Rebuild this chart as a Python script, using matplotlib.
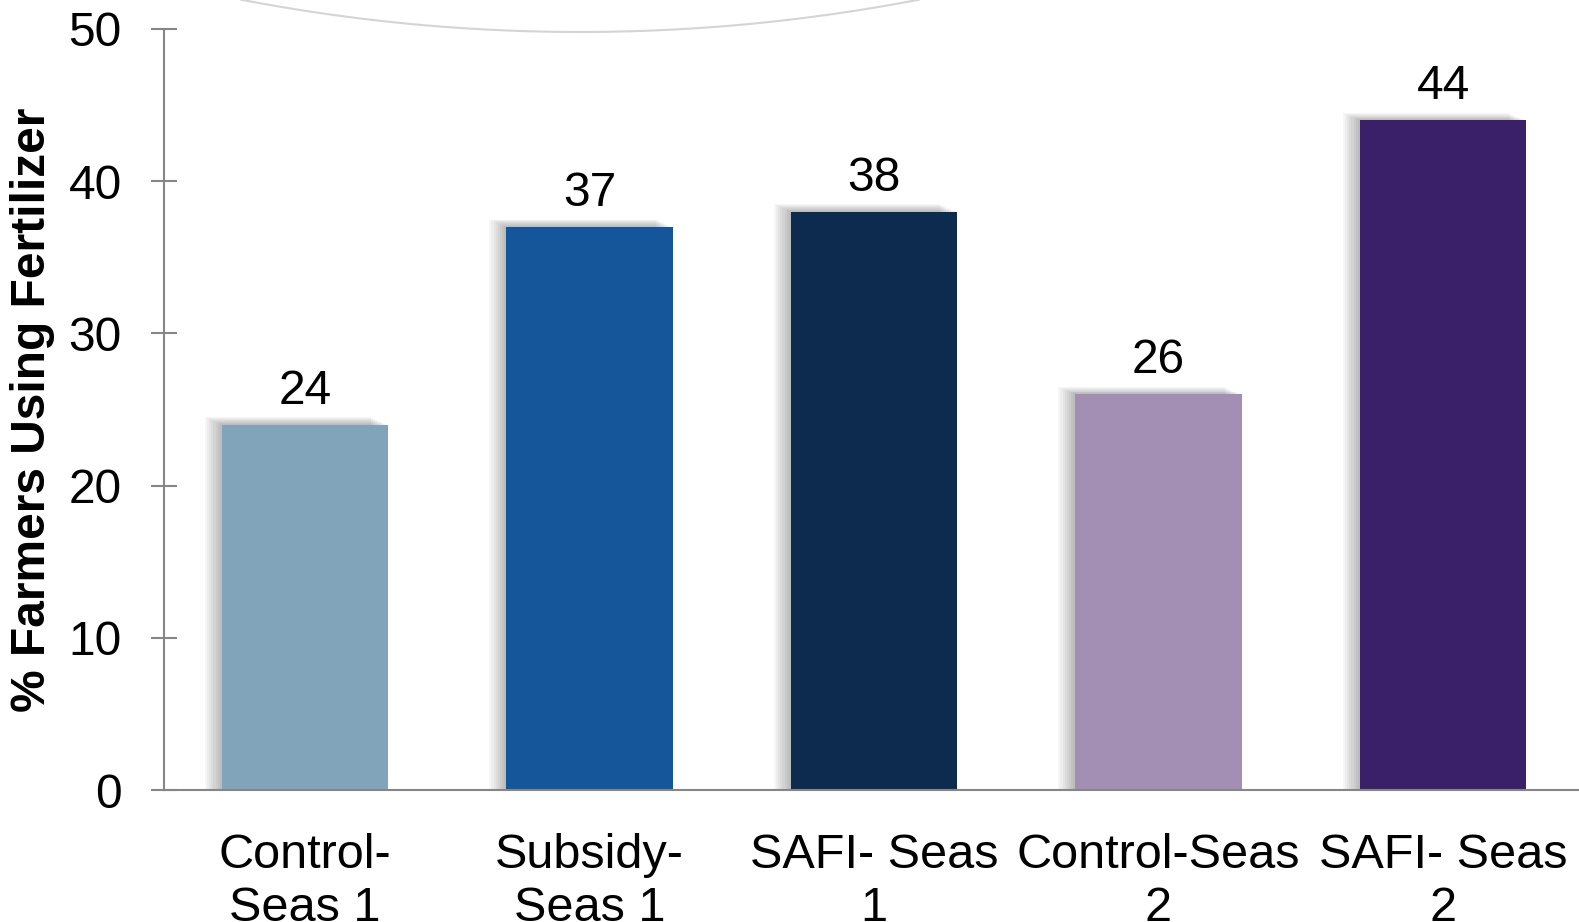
import numpy as np
import matplotlib.pyplot as plt
from matplotlib.lines import Line2D

plt.rcParams['font.family'] = ['Liberation Sans', 'DejaVu Sans']

# data
categories = ["Control-\nSeas 1", "Subsidy-\nSeas 1", "SAFI- Seas\n1", "Control-Seas\n2", "SAFI- Seas\n2"]
values = [24, 37, 38, 26, 44]
colors = ["#81a4bb", "#145699", "#0c2b4e", "#a28fb3", "#3a2068"]

fig = plt.figure(figsize=(15.79, 9.22), dpi=100)
W, H = 1579, 922
ax = fig.add_axes([164 / W, 1 - 790 / H, (1579 - 164) / W, (790 - 29) / H])

x = np.arange(len(values))
width = 0.584

# soft shadow behind each bar (to the left and above)
for k in range(1, 9):
    ax.bar(x - k * 0.0075, [v + k * 0.06 for v in values], width=width,
           color="black", alpha=0.035, linewidth=0, zorder=1)

ax.bar(x, values, width=width, color=colors, linewidth=0, zorder=2)

for xi, v in zip(x, values):
    ax.annotate(str(v), (xi, v), xytext=(0, 15), textcoords="offset points",
                ha="center", va="baseline", fontsize=34.5)

ax.set_ylim(0, 50)
ax.set_xlim(-0.4956, 4.478)
ax.set_yticks([0, 10, 20, 30, 40, 50])
ax.set_xticks(x)
ax.set_xticklabels(categories, fontsize=35, linespacing=1.22)
ax.tick_params(axis="x", length=0, pad=31)
ax.tick_params(axis="y", direction="inout", length=19, width=1.5, color="#868686",
               labelsize=34.5, pad=21)

for s in ["top", "right"]:
    ax.spines[s].set_visible(False)
ax.spines["left"].set_color("#868686")
ax.spines["bottom"].set_color("#868686")
ax.spines["left"].set_linewidth(1.5)
ax.spines["bottom"].set_linewidth(1.5)

ax.set_ylabel("% Farmers Using Fertilizer", fontsize=34.5, fontweight="bold")
ax.yaxis.set_label_coords(-0.077, 0.5)

# decorative arc at the top
t = np.linspace(-0.19, 0.19, 200)
r = 1793
arc_x = 580 + r * np.sin(t)
arc_y = -1761 + r * np.cos(t)
fig.add_artist(Line2D(arc_x / W, 1 - arc_y / H, color="#d4d4d4", linewidth=1.5))

fig.savefig("out.png", dpi=100)
